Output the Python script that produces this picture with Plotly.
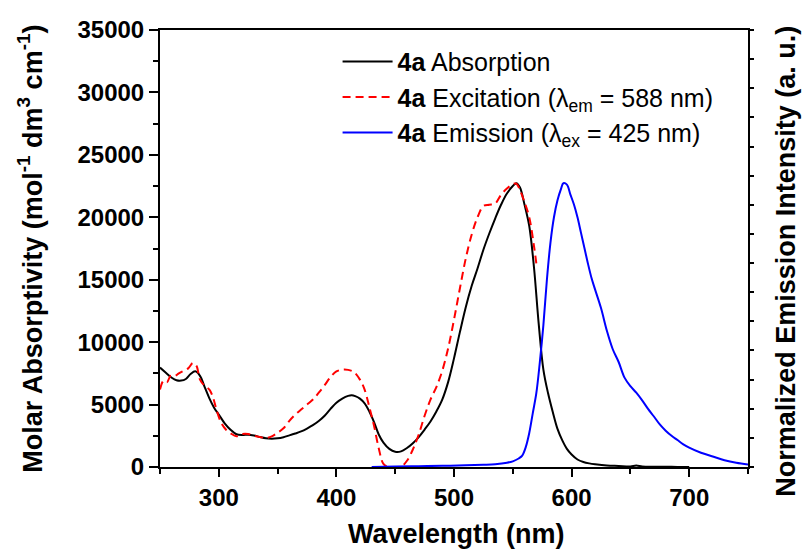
import plotly.graph_objects as go

# Absorption spectrum of 4a (molar absorptivity, mol^-1 dm^3 cm^-1)
absorption_nm = [250, 255, 260, 264, 268, 272, 276, 280, 284, 288, 292, 296, 300, 305, 310,
                 315, 320, 325, 330, 335, 340, 345, 350, 355, 360, 365, 370, 375, 380, 385,
                 390, 395, 400, 405, 410, 413, 416, 420, 424, 428, 432, 436, 440, 445, 450,
                 455, 460, 465, 470, 475, 480, 485, 490, 495, 500, 505, 510, 515, 520, 525,
                 530, 535, 540, 545, 550, 553, 556, 560, 564, 568, 572, 576, 580, 584, 588,
                 592, 596, 600, 605, 610, 615, 620, 630, 640, 650, 655, 660, 670, 680, 690, 700]
absorption_eps = [7960, 7550, 7150, 6950, 6920, 7050, 7450, 7660, 7300, 6400, 5500, 4750, 4200, 3500, 2980,
                  2620, 2560, 2590, 2520, 2400, 2300, 2270, 2300, 2390, 2530, 2680, 2850, 3080, 3350, 3680,
                  4100, 4650, 5150, 5480, 5700, 5750, 5680, 5480, 5100, 4450, 3600, 2600, 1950, 1450, 1220,
                  1250, 1520, 1900, 2400, 3000, 3650, 4450, 5400, 6800, 8700, 10800, 12800, 14500, 15900, 17400,
                  18700, 19900, 21000, 21900, 22500, 22730, 22400, 21000, 19300, 16000, 11500, 7800, 5900, 4400, 3050,
                  2150, 1450, 1000, 600, 400, 290, 220, 120, 80, 40, 120, 40, 20, 20, 10, 10]

# Excitation spectrum (lambda_em = 588 nm), scaled to the absorption peak
excitation_nm = [250, 253, 256, 259, 262, 266, 270, 274, 278, 281, 284, 288, 292, 295, 298,
                 302, 306, 310, 315, 320, 325, 330, 335, 340, 345, 350, 355, 360, 365, 370,
                 375, 380, 385, 390, 395, 400, 405, 410, 415, 420, 424, 428, 432, 436, 440,
                 444, 450, 455, 460, 465, 470, 475, 480, 485, 490, 495, 500, 505, 510, 515,
                 520, 525, 530, 535, 540, 545, 550, 553, 556, 560, 564, 568, 570]
excitation_int = [6200, 6900, 6800, 7300, 7250, 7500, 7700, 7900, 8330, 8100, 7000, 6500, 6200, 5600, 4600,
                  3550, 3000, 2700, 2460, 2650, 2650, 2500, 2400, 2330, 2450, 2750, 3100, 3700, 4200, 4600,
                  5000, 5400, 5950, 6550, 7200, 7650, 7800, 7780, 7600, 7000, 6200, 4800, 3300, 1500, 250,
                  20, 0, 20, 500, 1400, 2600, 4100, 5400, 6400, 7700, 9500, 11800, 14300, 16700, 18600,
                  20000, 20900, 21000, 21100, 21800, 22300, 22650, 22700, 22200, 21200, 20000, 17700, 16300]

# Normalized emission spectrum (lambda_ex = 425 nm)
emission_nm = [430, 450, 470, 490, 510, 525, 535, 545, 550, 555, 558, 561, 564, 567, 570,
               573, 576, 579, 582, 585, 588, 591, 593, 596, 599, 602, 605, 608, 611, 614,
               617, 620, 625, 630, 635, 640, 645, 650, 655, 660, 665, 670, 675, 680, 685,
               690, 695, 700, 710, 720, 730, 740, 750]
emission_norm = [0.0, 0.002, 0.003, 0.004, 0.006, 0.008, 0.010, 0.015, 0.020, 0.030, 0.040, 0.070, 0.12, 0.19, 0.26,
                 0.37, 0.50, 0.66, 0.79, 0.88, 0.94, 0.98, 1.00, 0.995, 0.96, 0.925, 0.88, 0.825, 0.77, 0.715,
                 0.665, 0.625, 0.56, 0.48, 0.415, 0.37, 0.315, 0.285, 0.262, 0.235, 0.205, 0.178, 0.150, 0.128, 0.110,
                 0.095, 0.080, 0.068, 0.050, 0.037, 0.024, 0.015, 0.009]

EPS_MAX = 35000
EMISSION_AXIS_MAX = 1.54

FONT = "Liberation Sans, Arial, sans-serif"

fig = go.Figure()
fig.add_trace(go.Scatter(x=absorption_nm, y=absorption_eps, mode="lines", line_shape="spline",
                         line=dict(color="black", width=2),
                         name="<b>4a</b> Absorption"))
fig.add_trace(go.Scatter(x=excitation_nm, y=excitation_int, mode="lines", line_shape="spline",
                         line=dict(color="#ff0000", width=2, dash="8px,5px"),
                         name="<b>4a</b> Excitation (λ<sub>em</sub> = 588 nm)"))
fig.add_trace(go.Scatter(x=emission_nm, y=emission_norm, mode="lines", line_shape="spline",
                         line=dict(color="#0000ff", width=2), yaxis="y2",
                         name="<b>4a</b> Emission (λ<sub>ex</sub> = 425 nm)"))

tickfont = dict(family=FONT, size=24, color="black", weight="bold")
titlefont = dict(family=FONT, size=27, color="black", weight="bold")

fig.update_layout(
    width=808, height=557,
    margin=dict(l=160, r=60, t=30, b=90),
    paper_bgcolor="white", plot_bgcolor="white",
    showlegend=True,
    legend=dict(x=0.302, y=0.98, xanchor="left", yanchor="top",
                bgcolor="rgba(0,0,0,0)", itemwidth=50, tracegroupgap=2,
                font=dict(family=FONT, size=25, color="black")),
    xaxis=dict(range=[250, 750], tick0=0, dtick=100, showgrid=False, zeroline=False,
               showline=True, linecolor="black", linewidth=2, mirror=True,
               ticks="outside", ticklen=8, tickwidth=2, tickcolor="black",
               tickfont=tickfont,
               minor=dict(dtick=50, tick0=0, ticks="outside", ticklen=5, tickwidth=2,
                          tickcolor="black", showgrid=False)),
    yaxis=dict(range=[0, EPS_MAX], tick0=0, dtick=5000, tickformat="d",
               showgrid=False, zeroline=False,
               showline=True, linecolor="black", linewidth=2,
               ticks="outside", ticklen=9, tickwidth=2, tickcolor="black",
               tickfont=tickfont,
               minor=dict(dtick=2500, tick0=0, ticks="outside", ticklen=5, tickwidth=2,
                          tickcolor="black", showgrid=False)),
    yaxis2=dict(range=[0, EMISSION_AXIS_MAX], overlaying="y", side="right", tick0=0,
                dtick=EMISSION_AXIS_MAX / 15, showgrid=False, zeroline=False,
                showline=True, linecolor="black", linewidth=2,
                ticks="outside", ticklen=4, tickwidth=1.5, tickcolor="black",
                showticklabels=False),
)

fig.add_annotation(text="Wavelength (nm)", xref="paper", yref="paper",
                   x=(457 - 160) / 588, y=(467.5 - 535) / 437.5,
                   xanchor="center", yanchor="middle", showarrow=False, font=titlefont)
fig.add_annotation(text="Molar Absorptivity (mol<sup>-1</sup> dm<sup>3</sup> cm<sup>-1</sup>)",
                   xref="paper", yref="paper", textangle=-90,
                   x=(30 - 160) / 588, y=(467.5 - 249) / 437.5,
                   xanchor="center", yanchor="middle", showarrow=False, font=titlefont)
fig.add_annotation(text="Normalized Emission Intensity (a. u.)",
                   xref="paper", yref="paper", textangle=-90,
                   x=(786 - 160) / 588, y=(467.5 - 262) / 437.5,
                   xanchor="center", yanchor="middle", showarrow=False, font=titlefont)

fig.write_html("out.html")
